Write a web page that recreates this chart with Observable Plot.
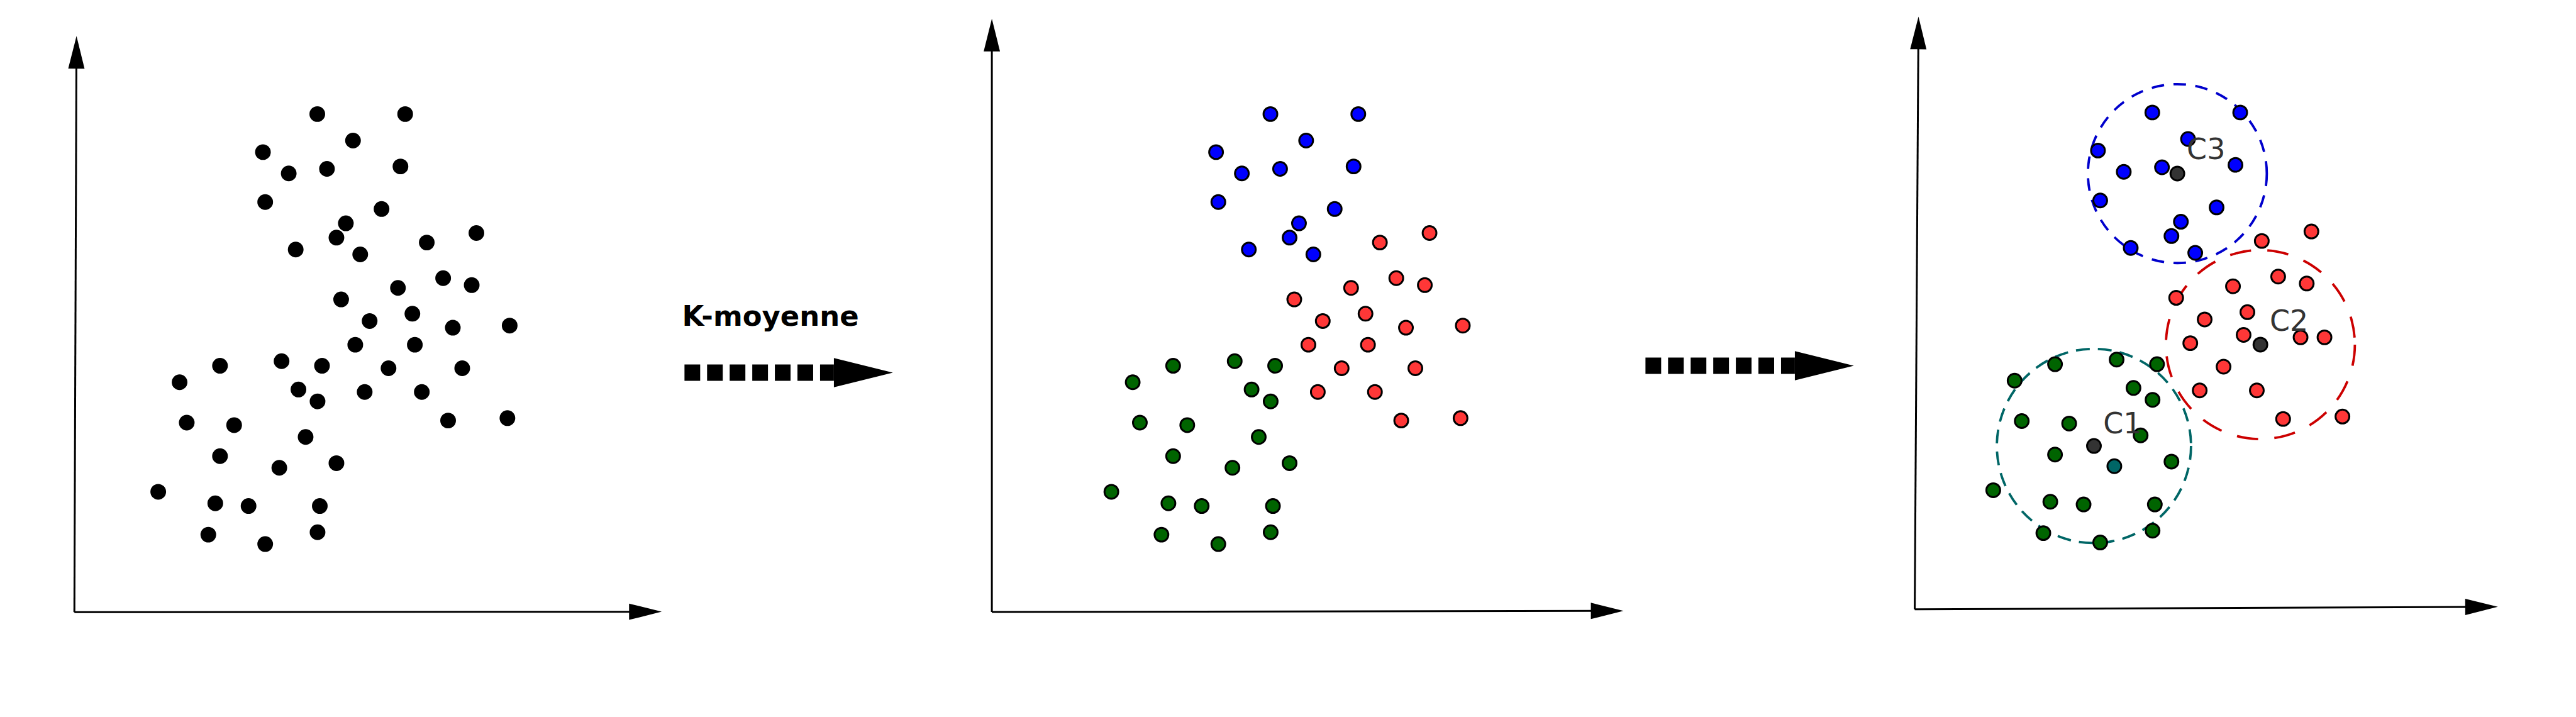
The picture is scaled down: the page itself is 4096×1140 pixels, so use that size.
<!DOCTYPE html>
<html>
<head>
<meta charset="utf-8">
<script src="https://cdn.jsdelivr.net/npm/d3@7"></script>
<script src="https://cdn.jsdelivr.net/npm/@observablehq/plot@0.6"></script>
<style>
  html, body { margin: 0; padding: 0; background: #ffffff; overflow: hidden; }
  svg { display: block; }
</style>
</head>
<body>
<div id="chart"></div>
<script>
// ---- data (reference-pixel coordinates of the middle panel) ----
const blueX = [2023.5, 2163.5, 2080.4, 1936.9, 1978.0, 2038.9, 2156.0, 1940.5, 2125.9, 2069.0, 2054.0, 1989.1, 2091.9];
const blueY = [181.2, 181.2, 223.4, 241.8, 275.7, 268.5, 264.6, 321.3, 332.4, 355.2, 378.0, 396.9, 404.7];
const redX = [2277.0, 2197.9, 2224.0, 2269.5, 2152.0, 2061.5, 2175.0, 2106.9, 2239.4, 2330.0, 2084.0, 2178.9, 2137.0, 2254.4, 2099.0, 2190.0, 2231.9, 2326.4];
const redY = [370.7, 385.8, 442.5, 453.6, 458.0, 476.4, 499.2, 510.8, 521.5, 518.1, 548.6, 548.6, 586.0, 586.0, 623.8, 623.8, 669.3, 665.5];
const greenX = [1868.5, 1966.6, 2031.0, 1804.1, 1993.5, 2023.9, 1815.5, 1891.0, 2004.9, 1868.5, 1963.0, 2054.0, 1770.1, 1861.0, 1914.0, 2027.5, 1849.9, 1940.5, 2023.9];
const greenY = [582.1, 574.8, 582.1, 608.3, 619.9, 638.8, 672.7, 676.6, 695.5, 726.0, 744.5, 737.2, 782.8, 801.2, 805.5, 805.5, 851.1, 866.1, 847.2];

// red cluster as it appears in the last panel (same frame as above)
const red3X = [2277.0, 2197.9, 2224.0, 2269.5, 2152.0, 2061.5, 2175.0, 2106.9, 2084.0, 2137.0, 2099.0, 2190.0, 2231.9, 2326.4, 2168.9, 2259.7, 2297.8];
const red3Y = [370.7, 385.8, 442.5, 453.6, 458.0, 476.4, 499.2, 510.8, 548.6, 586.0, 623.8, 623.8, 669.3, 665.5, 535.4, 539.3, 539.3];

// panel shifts of the point cloud
const panelShiftX = [-1518.5, 0, 1405];
const panelShiftY = [0, 0, -2.5];
const tealIndex = 10; // green point shown in teal in the last panel

// clusters (last panel)
const clusterNames = ["C1", "C2", "C3"];
const centroidX = [3335.5, 3600.7, 3468.4];
const centroidY = [709.8, 548.4, 276.0];
const clusterRadius = [154.7, 150.5, 142.5];
const labelX = [3350.3, 3615.5, 3483.4];
const labelY = [689.6, 526.5, 253.3];

// axes of the three panels
const axisOriginX = [118, 1579.7, 3050];
const axisOriginY = [974.5, 974.3, 970];
const yTipX = [121.4, 1579.7, 3056];
const yTipY = [56.8, 29.3, 26];
const xTipX = [1053.7, 2586, 3979];
const xTipY = [973.8, 972.4, 966];

// transition arrows
const stepStartX = [1090, 2621];
const stepTipX = [1422, 2953];
const stepY = [593, 582];
const stepLabel = ["K-moyenne", ""];
const stepLabelX = [1086, 0];
const stepLabelY = [518, 0];

// ---- styles ----
const S = 0.998;
const clusterFill = {blue: "#0000ff", red: "#ff3737", green: "#006400"};
const clusterStroke = ["#006666", "#cc0000", "#0000cc"];
const clusterDash = ["22 13", "34 26", "20 15"];

// ---- tables ----
const points = [];
for (let p = 0; p < 3; p++) {
  const sets = [["blue", blueX, blueY], ["red", p === 2 ? red3X : redX, p === 2 ? red3Y : redY], ["green", greenX, greenY]];
  for (const [name, X, Y] of sets) {
    X.forEach((x, i) => {
      let fill = p === 0 ? "#000000" : clusterFill[name];
      if (p === 2 && name === "green" && i === tealIndex) fill = "#006666";
      points.push({x: x + panelShiftX[p], y: Y[i] + panelShiftY[p], fill});
    });
  }
}

const headLen = 52, headBack = 45;
const axisLines = [], axisHeads = [];
for (let p = 0; p < 3; p++) {
  for (const [tx, ty] of [[yTipX[p], yTipY[p]], [xTipX[p], xTipY[p]]]) {
    const dx = tx - axisOriginX[p], dy = ty - axisOriginY[p];
    const L = Math.hypot(dx, dy), ux = dx / L, uy = dy / L;
    axisLines.push({x1: axisOriginX[p], y1: axisOriginY[p], x2: tx - headBack * ux, y2: ty - headBack * uy});
    axisHeads.push({x: tx, y: ty, rotate: Math.atan2(ux, -uy) * 180 / Math.PI});
  }
}

const stepHeadLen = 94;
const steps = stepStartX.map((x, i) => ({x1: x, x2: stepTipX[i] - stepHeadLen, tip: stepTipX[i], y: stepY[i]}));
const stepTexts = stepLabel.map((t, i) => ({t, x: stepLabelX[i], y: stepLabelY[i]})).filter(d => d.t);

const clusters = clusterNames.map((n, i) => ({n, cx: centroidX[i], cy: centroidY[i], r: clusterRadius[i], lx: labelX[i], ly: labelY[i]}));

const marks = [
  Plot.link(axisLines, {x1: "x1", y1: "y1", x2: "x2", y2: "y2", stroke: "#000", strokeWidth: 3 * S}),
  Plot.vector(axisHeads, {x: "x", y: "y", rotate: "rotate", length: headLen * S, r: 13 * S, shape: "spike", anchor: "end", fill: "#000", stroke: "none"}),
  Plot.link(steps, {x1: "x1", x2: "x2", y1: "y", y2: "y", stroke: "#000", strokeWidth: 26 * S, strokeDasharray: `${25 * S} ${11 * S}`, strokeLinecap: "butt"}),
  Plot.vector(steps, {x: "tip", y: "y", rotate: 90, length: stepHeadLen * S, r: 23.3 * S, shape: "spike", anchor: "end", fill: "#000", stroke: "none"}),
  Plot.text(stepTexts, {x: "x", y: "y", text: "t", textAnchor: "start", lineAnchor: "bottom", fontFamily: "DejaVu Sans", fontWeight: "bold", fontSize: 45 * S, fill: "#000"}),
  ...clusters.map((c, i) => Plot.dot([c], {x: "cx", y: "cy", r: c.r * S, fill: "none", stroke: clusterStroke[i], strokeWidth: 3.8 * S, strokeDasharray: clusterDash[i].split(" ").map(v => +v * S).join(" ")})),
  Plot.dot(points, {x: "x", y: "y", r: 11 * S, fill: "fill", stroke: "#000", strokeWidth: 3 * S}),
  Plot.dot(clusters, {x: "cx", y: "cy", r: 11 * S, fill: "#333333", stroke: "#000", strokeWidth: 3 * S}),
  Plot.text(clusters, {x: "lx", y: "ly", text: "n", textAnchor: "start", lineAnchor: "bottom", fontFamily: "DejaVu Sans", fontSize: 46 * S, fill: "#333333"})
];

const chart = Plot.plot({
  width: 4096,
  height: 1140,
  margin: 0,
  style: {background: "#ffffff"},
  x: {domain: [0, 4104], range: [0, 4096], axis: null},
  y: {domain: [0, 1142], range: [0, 1140], axis: null},
  marks
});
document.getElementById("chart").appendChild(chart);
</script>
</body>
</html>
